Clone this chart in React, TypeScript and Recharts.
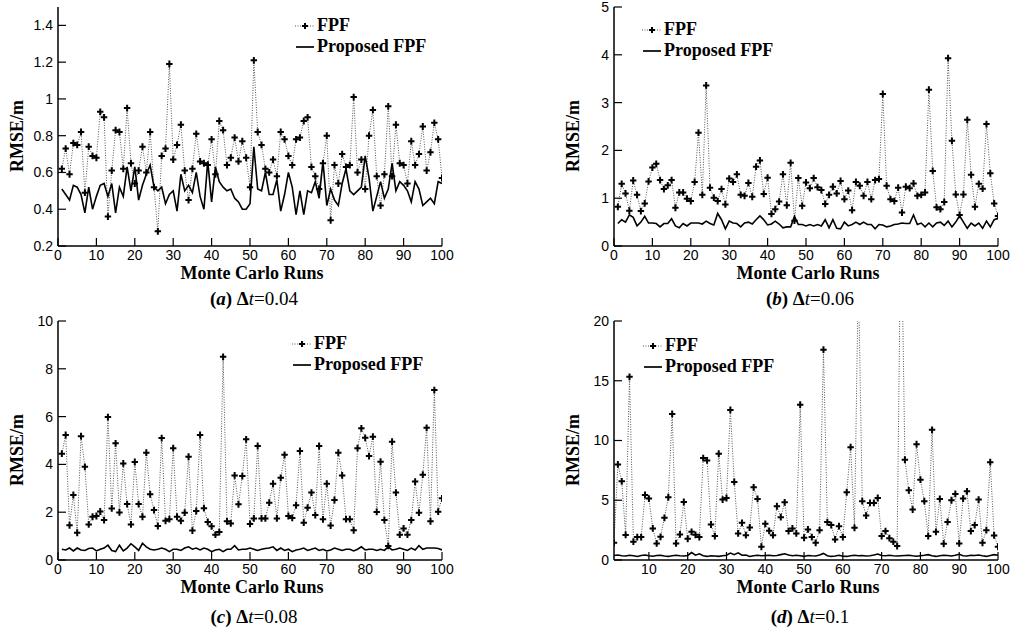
import React from "react";
import { LineChart, Line, XAxis, YAxis, Legend } from "recharts";

// Monte Carlo run index (x axis)
const runs = Array.from({ length: 100 }, (_, i) => i + 1);

// (a) dt = 0.04
const fpfA = [
  0.62, 0.73, 0.59, 0.76, 0.75, 0.82, 0.49, 0.74, 0.69, 0.68,
  0.93, 0.9, 0.36, 0.61, 0.83, 0.82, 0.62, 0.95, 0.65, 0.54,
  0.61, 0.74, 0.6, 0.82, 0.52, 0.28, 0.69, 0.73, 1.19, 0.67,
  0.75, 0.86, 0.61, 0.45, 0.62, 0.81, 0.66, 0.65, 0.64, 0.78,
  0.59, 0.88, 0.83, 0.64, 0.68, 0.79, 0.66, 0.77, 0.68, 0.52,
  1.21, 0.82, 0.75, 0.62, 0.6, 0.67, 0.58, 0.82, 0.78, 0.69,
  0.64, 0.78, 0.79, 0.88, 0.9, 0.63, 0.58, 0.51, 0.65, 0.8,
  0.34, 0.64, 0.54, 0.7, 0.63, 0.64, 1.01, 0.6, 0.67, 0.51,
  0.8, 0.94, 0.58, 0.42, 0.59, 0.96, 0.58, 0.86, 0.65, 0.64,
  0.54, 0.77, 0.64, 0.7, 0.85, 0.61, 0.71, 0.87, 0.78, 0.57,
];
const propA = [
  0.51, 0.48, 0.45, 0.53, 0.52, 0.48, 0.38, 0.52, 0.4, 0.47,
  0.53, 0.54, 0.47, 0.54, 0.38, 0.52, 0.47, 0.63, 0.5, 0.63,
  0.45, 0.53, 0.59, 0.64, 0.52, 0.5, 0.52, 0.43, 0.48, 0.5,
  0.39, 0.59, 0.5, 0.53, 0.49, 0.6, 0.47, 0.4, 0.66, 0.44,
  0.63, 0.55, 0.52, 0.5, 0.51, 0.46, 0.44, 0.4, 0.4, 0.43,
  0.74, 0.51, 0.5, 0.6, 0.48, 0.48, 0.56, 0.39, 0.48, 0.6,
  0.52, 0.37, 0.5, 0.37, 0.5, 0.49, 0.55, 0.46, 0.66, 0.42,
  0.51, 0.45, 0.42, 0.54, 0.62, 0.5, 0.48, 0.5, 0.52, 0.69,
  0.57, 0.39, 0.47, 0.55, 0.46, 0.51, 0.65, 0.5, 0.55, 0.53,
  0.5, 0.44, 0.55, 0.51, 0.42, 0.44, 0.46, 0.43, 0.55, 0.54,
];

// (b) dt = 0.06
const fpfB = [
  0.82, 1.3, 1.1, 0.74, 1.37, 1.07, 0.73, 0.89, 1.35, 1.64,
  1.72, 1.38, 1.19, 1.27, 1.38, 0.8, 1.12, 1.12, 0.99, 0.94,
  1.34, 2.37, 1.07, 3.36, 1.22, 1.01, 0.94, 1.19, 0.87, 1.41,
  1.34, 1.5, 1.07, 1.05, 1.32, 1.03, 1.66, 1.79, 1.09, 1.43,
  0.67, 0.77, 0.93, 1.5, 0.85, 1.74, 0.53, 1.42, 0.84, 1.33,
  1.21, 1.42, 1.23, 1.17, 0.88, 1.07, 1.24, 1.1, 1.36, 0.98,
  1.16, 0.75, 1.34, 1.26, 1.05, 1.34, 0.98, 1.38, 1.4, 3.18,
  1.26, 0.98, 0.94, 1.22, 0.7, 1.24, 1.21, 1.31, 1.05, 1.07,
  1.12, 3.27, 1.57, 0.81, 0.77, 0.92, 3.93, 2.2, 1.08, 0.65,
  1.08, 2.64, 1.49, 0.82, 1.3, 1.2, 2.55, 1.52, 0.89, 0.63,
];
const propB = [
  0.47, 0.55, 0.5, 0.65, 0.6, 0.42, 0.5, 0.62, 0.48, 0.48,
  0.47, 0.4, 0.47, 0.47, 0.57, 0.42, 0.38, 0.47, 0.42, 0.48,
  0.48, 0.48, 0.46, 0.52, 0.47, 0.44, 0.68, 0.55, 0.36, 0.52,
  0.48, 0.47, 0.4, 0.48, 0.5, 0.46, 0.55, 0.63, 0.55, 0.44,
  0.46, 0.52, 0.46, 0.38, 0.4, 0.4, 0.62, 0.45, 0.45, 0.42,
  0.45, 0.42, 0.45, 0.42, 0.55, 0.38, 0.55, 0.37, 0.36, 0.5,
  0.42, 0.45, 0.5, 0.45, 0.5, 0.45, 0.45, 0.36, 0.45, 0.44,
  0.4, 0.42, 0.45, 0.46, 0.48, 0.47, 0.47, 0.65, 0.45, 0.48,
  0.4, 0.48, 0.4, 0.48, 0.5, 0.43, 0.52, 0.4, 0.5, 0.63,
  0.5, 0.37, 0.48, 0.42, 0.48, 0.37, 0.52, 0.4, 0.55, 0.58,
];

// (c) dt = 0.08
const fpfC = [
  4.45, 5.23, 1.45, 2.72, 1.14, 5.18, 3.9, 1.49, 1.81, 1.84,
  2.03, 1.67, 5.98, 2.16, 4.88, 1.99, 4.04, 2.34, 1.49, 4.1,
  2.34, 1.81, 4.49, 2.75, 2.09, 1.42, 5.1, 1.64, 1.71, 4.68,
  1.81, 1.64, 1.98, 4.32, 1.23, 2.05, 5.23, 2.17, 1.59, 1.41,
  1.06, 1.17, 8.5, 1.62, 1.53, 3.54, 2.33, 3.51, 5.05, 1.51,
  1.74, 4.77, 1.74, 1.74, 2.4, 3.19, 1.74, 3.44, 4.4, 1.84,
  1.76, 2.29, 4.56, 1.56, 2.19, 2.82, 1.88, 4.77, 1.7, 3.19,
  1.44, 2.51, 4.49, 3.54, 1.71, 1.71, 1.24, 4.68, 5.51, 5.11,
  4.35, 5.16, 2.01, 4.11, 1.67, 0.59, 4.95, 2.82, 1.06, 1.32,
  1.06, 1.67, 3.28, 1.98, 3.57, 5.53, 1.62, 7.11, 2.02, 2.58,
];
const propC = [
  0.45, 0.42, 0.5, 0.38, 0.5, 0.42, 0.4, 0.48, 0.5, 0.38,
  0.45, 0.5, 0.62, 0.4, 0.35, 0.62, 0.38, 0.5, 0.68, 0.55,
  0.4, 0.7, 0.55, 0.45, 0.42, 0.45, 0.5, 0.45, 0.35, 0.45,
  0.45, 0.4, 0.5, 0.55, 0.45, 0.5, 0.42, 0.5, 0.45, 0.35,
  0.42, 0.45, 0.35, 0.45, 0.45, 0.6, 0.42, 0.45, 0.45, 0.5,
  0.45, 0.4, 0.45, 0.48, 0.5, 0.55, 0.4, 0.5, 0.4, 0.45,
  0.35, 0.42, 0.45, 0.5, 0.4, 0.45, 0.5, 0.4, 0.45, 0.38,
  0.42, 0.5, 0.45, 0.4, 0.45, 0.45, 0.38, 0.45, 0.55, 0.42,
  0.45, 0.45, 0.4, 0.45, 0.4, 0.55, 0.42, 0.45, 0.5, 0.45,
  0.4, 0.5, 0.42, 0.6, 0.45, 0.5, 0.5, 0.5, 0.48, 0.42,
];

// (d) dt = 0.1 (runs 64 and 75 run off the top of the axis)
const fpfD = [
  1.44, 8.0, 6.58, 2.1, 15.33, 1.53, 1.92, 1.92, 5.44, 5.14,
  2.64, 1.39, 1.94, 3.53, 5.25, 12.22, 1.39, 2.14, 4.86, 1.78,
  2.36, 2.11, 1.92, 8.53, 8.33, 2.97, 2.0, 8.89, 5.06, 5.19,
  12.56, 6.53, 2.22, 3.11, 2.08, 2.72, 6.08, 5.11, 1.11, 3.03,
  2.44, 2.08, 4.5, 3.58, 4.83, 2.42, 2.64, 2.22, 13.0, 1.86,
  2.56, 1.92, 1.44, 2.5, 17.6, 3.17, 2.92, 1.72, 2.83, 1.92,
  5.67, 9.44, 2.69, 24, 4.92, 3.72, 4.78, 4.78, 5.19, 2.0,
  2.42, 1.83, 1.53, 1.17, 30, 8.39, 5.83, 4.22, 9.69, 6.72,
  4.92, 2.0, 10.89, 2.36, 5.11, 1.36, 3.19, 5.0, 5.53, 1.39,
  5.14, 5.75, 2.42, 2.92, 5.06, 1.44, 2.5, 8.19, 2.06, 1.11,
];
const propD = [
  0.38, 0.42, 0.35, 0.33, 0.4, 0.36, 0.3, 0.38, 0.42, 0.35,
  0.32, 0.38, 0.4, 0.34, 0.3, 0.36, 0.4, 0.35, 0.33, 0.38,
  0.62, 0.4, 0.52, 0.35, 0.3, 0.36, 0.33, 0.3, 0.35, 0.4,
  0.58, 0.45, 0.6, 0.4, 0.42, 0.3, 0.36, 0.4, 0.35, 0.38,
  0.4, 0.35, 0.38, 0.45, 0.52, 0.42, 0.36, 0.4, 0.35, 0.3,
  0.38, 0.35, 0.33, 0.42, 0.55, 0.36, 0.3, 0.34, 0.4, 0.32,
  0.3, 0.36, 0.4, 0.35, 0.38, 0.33, 0.36, 0.42, 0.5, 0.38,
  0.36, 0.4, 0.35, 0.33, 0.36, 0.38, 0.4, 0.35, 0.32, 0.36,
  0.4, 0.45, 0.35, 0.3, 0.36, 0.4, 0.38, 0.33, 0.4, 0.48,
  0.36, 0.33, 0.4, 0.38, 0.42, 0.35, 0.3, 0.38, 0.45, 0.4,
];

const xTicks = [0, 10, 20, 30, 40, 50, 60, 70, 80, 90, 100];
const xTicksD = [10, 20, 30, 40, 50, 60, 70, 80, 90, 100];
const yTicksA = [0.2, 0.4, 0.6, 0.8, 1, 1.2, 1.4];
const yTicksB = [0, 1, 2, 3, 4, 5];
const yTicksC = [0, 2, 4, 6, 8, 10];
const yTicksD = [0, 5, 10, 15, 20];

const SERIF = '"Liberation Serif", "Times New Roman", serif';
const SANS = '"Liberation Sans", Arial, sans-serif';

const toRows = (fpf: number[], proposed: number[]) =>
  runs.map((run, i) => ({ run, fpf: fpf[i], proposed: proposed[i] }));

function PlusDot(props: any) {
  const { cx, cy, index } = props;
  if (cx == null || cy == null) return <g key={`e${index}`} />;
  return (
    <path
      key={`p${index}`}
      d={`M${cx - 3.2},${cy}H${cx + 3.2}M${cx},${cy - 3.4}V${cy + 3.4}`}
      stroke="#000"
      strokeWidth={2}
    />
  );
}

function LegendBox({ payload }: any) {
  return (
    <div style={{ fontFamily: SERIF, fontWeight: "bold", fontSize: 18, lineHeight: "21px", color: "#000" }}>
      {(payload || []).map((e: any) => (
        <div key={e.value} style={{ display: "flex", alignItems: "center", whiteSpace: "nowrap" }}>
          <svg width={20} height={12} style={{ marginRight: 2 }}>
            {e.value === "FPF" ? (
              <>
                <line x1={0} y1={6} x2={20} y2={6} stroke="#555" strokeDasharray="1 1.5" />
                <path d="M7,6H13M10,3V9" stroke="#000" strokeWidth={2} />
              </>
            ) : (
              <line x1={1} y1={6} x2={19} y2={6} stroke="#000" strokeWidth={1.7} />
            )}
          </svg>
          <span>{e.value}</span>
        </div>
      ))}
    </div>
  );
}

const tickStyle = { fontFamily: SANS, fontSize: 14, fill: "#000" };
const frame = { stroke: "#000", strokeWidth: 1.5 };

function Panel(p: {
  left: number;
  top: number;
  fpf: number[];
  proposed: number[];
  xDomain: number[];
  xTicks: number[];
  yDomain: number[];
  yTicks: number[];
  legendLeft: number;
  legendTop: number;
  caption: React.ReactNode;
  captionY: number;
  labelY: number;
}) {
  const data = toRows(p.fpf, p.proposed);
  return (
    <div style={{ position: "absolute", left: p.left, top: p.top, width: 464, height: 317 }}>
      <LineChart width={464} height={276} data={data} margin={{ top: 7, right: 22, left: 0, bottom: 0 }}>
        <XAxis
          dataKey="run"
          type="number"
          domain={p.xDomain}
          ticks={p.xTicks}
          interval={0}
          height={30}
          tickSize={-8}
          tickMargin={12}
          tick={tickStyle}
          axisLine={frame}
          tickLine={{ stroke: "#000", strokeWidth: 1.2 }}
          allowDataOverflow
        />
        <YAxis
          type="number"
          domain={p.yDomain}
          ticks={p.yTicks}
          interval={0}
          width={58}
          tickSize={-8}
          tickMargin={13}
          tick={tickStyle}
          axisLine={frame}
          tickLine={{ stroke: "#000", strokeWidth: 1.2 }}
          allowDataOverflow
        />
        <XAxis xAxisId="top" orientation="top" type="number" domain={p.xDomain} height={0} tick={false} tickLine={false} axisLine={frame} />
        <YAxis yAxisId="right" orientation="right" type="number" domain={p.yDomain} width={0} tick={false} tickLine={false} axisLine={frame} />
        <Legend
          layout="vertical"
          align="center"
          verticalAlign="middle"
          content={<LegendBox />}
          wrapperStyle={{ left: p.legendLeft, top: p.legendTop, width: "auto" }}
        />
        <Line
          dataKey="fpf"
          name="FPF"
          type="linear"
          stroke="#555"
          strokeWidth={1}
          strokeDasharray="1 1.5"
          dot={PlusDot}
          activeDot={false}
          isAnimationActive={false}
        />
        <Line
          dataKey="proposed"
          name="Proposed FPF"
          type="linear"
          stroke="#000"
          strokeWidth={1.6}
          dot={false}
          activeDot={false}
          isAnimationActive={false}
        />
      </LineChart>
      <div
        style={{
          position: "absolute",
          left: 17,
          top: 136,
          transform: "translate(-50%, -50%) rotate(-90deg)",
          fontFamily: SERIF,
          fontWeight: "bold",
          fontSize: 18,
          whiteSpace: "nowrap",
        }}
      >
        RMSE/m
      </div>
      <div
        style={{
          position: "absolute",
          left: 252,
          top: p.labelY,
          transform: "translate(-50%, -50%)",
          fontFamily: SERIF,
          fontWeight: "bold",
          fontSize: 18,
          whiteSpace: "nowrap",
        }}
      >
        Monte Carlo Runs
      </div>
      <div
        style={{
          position: "absolute",
          left: 254,
          top: p.captionY,
          transform: "translate(-50%, -50%)",
          fontFamily: SERIF,
          fontSize: 19,
          whiteSpace: "nowrap",
        }}
      >
        {p.caption}
      </div>
    </div>
  );
}

const cap = (letter: string, dt: string) => (
  <>
    <b>
      (<i>{letter}</i>) Δ
    </b>
    <i>t</i>={dt}
  </>
);

export default function App() {
  return (
    <div style={{ position: "absolute", left: 0, top: 0, width: 1013, height: 631, background: "#fff", overflow: "hidden" }}>
      <Panel
        left={0}
        top={0}
        fpf={fpfA}
        proposed={propA}
        xDomain={[0, 100]}
        xTicks={xTicks}
        yDomain={[0.2, 1.5]}
        yTicks={yTicksA}
        legendLeft={295}
        legendTop={15}
        labelY={273}
        captionY={299}
        caption={cap("a", "0.04")}
      />
      <Panel
        left={556}
        top={0}
        fpf={fpfB}
        proposed={propB}
        xDomain={[0, 100]}
        xTicks={xTicks}
        yDomain={[0, 5]}
        yTicks={yTicksB}
        legendLeft={86}
        legendTop={19}
        labelY={273}
        captionY={299}
        caption={cap("b", "0.06")}
      />
      <Panel
        left={0}
        top={314}
        fpf={fpfC}
        proposed={propC}
        xDomain={[0, 100]}
        xTicks={xTicks}
        yDomain={[0, 10]}
        yTicks={yTicksC}
        legendLeft={292}
        legendTop={19}
        labelY={273}
        captionY={303}
        caption={cap("c", "0.08")}
      />
      <Panel
        left={556}
        top={314}
        fpf={fpfD}
        proposed={propD}
        xDomain={[1, 100]}
        xTicks={xTicksD}
        yDomain={[0, 20]}
        yTicks={yTicksD}
        legendLeft={87}
        legendTop={21}
        labelY={273}
        captionY={303}
        caption={cap("d", "0.1")}
      />
    </div>
  );
}
